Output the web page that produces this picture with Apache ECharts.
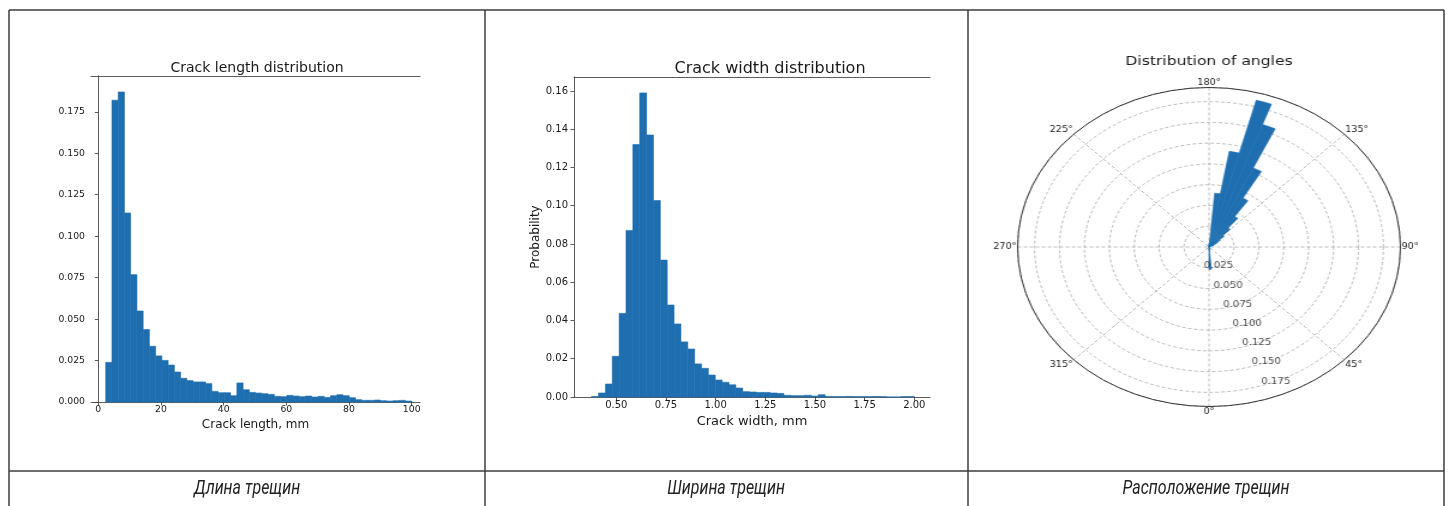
<!DOCTYPE html>
<html>
<head>
<meta charset="utf-8">
<script src="https://cdn.jsdelivr.net/npm/echarts@6/dist/echarts.min.js"></script>
<style>
  html, body { margin: 0; padding: 0; background: #fff; }
  #main { position: absolute; left: 0; top: 0; width: 1452px; height: 506px; }
  #rose { position: absolute; left: 1009px; top: 47px; width: 400px; height: 400px;
          transform: scaleX(1.2); transform-origin: 50% 50%; }
</style>
</head>
<body>
<div id="main"></div>
<div id="rose"></div>
<script>
// crack length histogram (mm), 49 bins
const lengthStart = 2.36;
const lengthBinWidth = 1.993;
const lengthProb = [
  0.0239, 0.182, 0.187, 0.114, 0.0768, 0.0549, 0.0437, 0.0336, 0.0278, 0.0251,
  0.0223, 0.0181, 0.0143, 0.0129, 0.0121, 0.0121, 0.0111, 0.0064, 0.0056, 0.0056,
  0.0038, 0.0115, 0.0074, 0.0058, 0.0054, 0.0050, 0.0046, 0.0034, 0.0032, 0.0040,
  0.0036, 0.0032, 0.0036, 0.0030, 0.0034, 0.0028, 0.0038, 0.0044, 0.0038, 0.0026,
  0.0014, 0.0010, 0.0010, 0.0012, 0.0008, 0.0006, 0.0008, 0.0010, 0.0006
];
const lengthTicksX = [0, 20, 40, 60, 80, 100];
const lengthTicksY = [0, 0.025, 0.05, 0.075, 0.1, 0.125, 0.15, 0.175];

// crack width histogram (mm), 47 bins
const widthStart = 0.376;
const widthBinWidth = 0.03456;
const widthProb = [
  0.0003, 0.0021, 0.0068, 0.0213, 0.0437, 0.0871, 0.132, 0.159, 0.137, 0.1027,
  0.0716, 0.0481, 0.0382, 0.0288, 0.0251, 0.0173, 0.0150, 0.0115, 0.0089, 0.0077,
  0.0064, 0.0047, 0.0028, 0.0026, 0.0024, 0.0024, 0.0021, 0.0019, 0.0009, 0.0007,
  0.0007, 0.0009, 0.0005, 0.0012, 0.0003, 0.0002, 0.0002, 0.0003, 0.0002, 0.0002,
  0.0002, 0.0003, 0.0002, 0, 0, 0.0002, 0.0002
];
const widthTicksX = [0.5, 0.75, 1.0, 1.25, 1.5, 1.75, 2.0];
const widthTicksY = [0, 0.02, 0.04, 0.06, 0.08, 0.10, 0.12, 0.14, 0.16];

// angle distribution, 5 degree bins (start angle of each non-empty bin)
const roseBinDeg = 5;
const roseAngles = [0, 5, 115, 120, 125, 130, 135, 140, 145, 150, 155, 160, 165, 170, 175];
const roseProb = [0.027, 0.004, 0.006, 0.010, 0.014, 0.020, 0.030, 0.045, 0.068, 0.105, 0.157, 0.183, 0.117, 0.065, 0.004];
const roseRadiusTicks = [0.025, 0.05, 0.075, 0.1, 0.125, 0.15, 0.175];

const captions = ['Длина трещин', 'Ширина трещин', 'Расположение трещин'];

const barColor = '#1f6eb0';
const inkColor = '#1a1a1a';
const mplFont = 'DejaVu Sans';

function bins(start, w, values) {
  return values.map((v, i) => [start + i * w, start + (i + 1) * w, v]);
}

function histItem(params, api) {
  const p0 = api.coord([api.value(0), 0]);
  const p1 = api.coord([api.value(1), api.value(2)]);
  return {
    type: 'rect',
    shape: {x: p0[0], y: p1[1], width: p1[0] - p0[0], height: p0[1] - p1[1]},
    style: {fill: barColor, stroke: barColor, lineWidth: 0.6}
  };
}

function bottomAxis(grid, min, max, ticks, fmt, size, name, nameSize, nameGap) {
  return {
    gridIndex: grid, type: 'value', position: 'bottom', min: min, max: max,
    axisLine: {lineStyle: {color: '#333', width: 0.8}},
    axisTick: {customValues: ticks, length: 3.5, lineStyle: {color: '#333', width: 0.8}},
    axisLabel: {customValues: ticks, formatter: fmt, fontSize: size, color: inkColor,
                fontFamily: mplFont, margin: 3},
    splitLine: {show: false},
    name: name, nameLocation: 'middle', nameGap: nameGap,
    nameTextStyle: {fontSize: nameSize, color: inkColor, fontFamily: mplFont}
  };
}
function topSpine(grid, min, max) {
  return {
    gridIndex: grid, type: 'value', position: 'top', min: min, max: max,
    axisLine: {lineStyle: {color: '#333', width: 0.8}},
    axisTick: {show: false}, axisLabel: {show: false}, splitLine: {show: false}
  };
}
function leftAxis(grid, max, ticks, digits, size) {
  return {
    gridIndex: grid, type: 'value', min: 0, max: max,
    axisLine: {show: true, lineStyle: {color: '#333', width: 0.8}},
    axisTick: {show: true, customValues: ticks, length: 3.5, lineStyle: {color: '#333', width: 0.8}},
    axisLabel: {customValues: ticks, formatter: v => v.toFixed(digits), fontSize: size,
                color: inkColor, fontFamily: mplFont, margin: 6},
    splitLine: {show: false}
  };
}

const main = echarts.init(document.getElementById('main'));

const yWidth = leftAxis(1, 0.1673, widthTicksY, 2, 10);
yWidth.name = 'Probability';
yWidth.nameLocation = 'middle';
yWidth.nameGap = 30;
yWidth.nameTextStyle = {fontSize: 12, color: inkColor, fontFamily: mplFont};

const lineStyle = {stroke: '#3c3c3c', lineWidth: 1.5};
const tableLines = [
  [9, 10, 1444, 10], [9, 471, 1444, 471],
  [9, 10, 9, 506], [485, 10, 485, 506], [968, 10, 968, 506], [1444, 10, 1444, 506]
].map(l => ({type: 'line', shape: {x1: l[0], y1: l[1], x2: l[2], y2: l[3]}, style: lineStyle, z: 10}));

const captionCenters = [247, 726, 1206];
const captionTexts = captions.map((t, i) => ({
  type: 'text', x: captionCenters[i], y: 489, z: 10, scaleX: 0.8,
  style: {text: t, fill: '#222', font: 'italic 20px Roboto', textAlign: 'center', textVerticalAlign: 'middle'}
}));

main.setOption({
  animation: false,
  title: [
    {text: 'Crack length distribution', left: 252, top: 56, textAlign: 'center',
     textStyle: {fontSize: 14, fontWeight: 'normal', color: inkColor, fontFamily: mplFont}},
    {text: 'Crack width distribution', left: 765, top: 56, textAlign: 'center',
     textStyle: {fontSize: 16, fontWeight: 'normal', color: inkColor, fontFamily: mplFont}}
  ],
  grid: [
    {left: 91, top: 76, width: 329, height: 326},
    {left: 574, top: 77, width: 356, height: 320}
  ],
  xAxis: [
    bottomAxis(0, -2.33, 102.65, lengthTicksX, v => String(v), 9.3, 'Crack length, mm', 12, 10),
    topSpine(0, -2.33, 102.65),
    bottomAxis(1, 0.287, 2.079, widthTicksX, v => v.toFixed(2), 10, 'Crack width, mm', 13, 13),
    topSpine(1, 0.287, 2.079)
  ],
  yAxis: [
    leftAxis(0, 0.1966, lengthTicksY, 3, 9.3),
    yWidth
  ],
  series: [
    {type: 'custom', xAxisIndex: 0, yAxisIndex: 0, renderItem: histItem,
     encode: {x: [0, 1], y: 2}, data: bins(lengthStart, lengthBinWidth, lengthProb)},
    {type: 'custom', xAxisIndex: 2, yAxisIndex: 1, renderItem: histItem,
     encode: {x: [0, 1], y: 2}, data: bins(widthStart, widthBinWidth, widthProb)}
  ],
  graphic: tableLines.concat(captionTexts)
});

// polar rose
const rose = echarts.init(document.getElementById('rose'));
const binCount = 360 / roseBinDeg;
const roseCats = [];
const roseFull = [];
for (let i = 0; i < binCount; i++) {
  roseCats.push(String(i * roseBinDeg));
  roseFull.push(0);
}
roseAngles.forEach((a, i) => { roseFull[a / roseBinDeg] = roseProb[i]; });

const rMax = 0.192;
const gridLine = {color: '#a8a8a8', width: 0.8, type: [3, 2]};

rose.setOption({
  animation: false,
  title: {text: 'Distribution of angles', left: 'center', top: 3,
          textStyle: {fontSize: 13, fontWeight: 'normal', color: inkColor, fontFamily: mplFont}},
  polar: [
    {center: ['50%', '50%'], radius: 159.5},
    {center: ['50%', '50%'], radius: 159.5}
  ],
  angleAxis: [
    {polarIndex: 0, type: 'value', min: 0, max: 360, interval: 45, startAngle: 270, clockwise: false,
     axisLine: {lineStyle: {color: '#333', width: 1}},
     axisTick: {show: false},
     axisLabel: {formatter: v => (v === 360 ? '' : v + '°'), fontSize: 8, color: inkColor,
                 fontFamily: mplFont, margin: 1},
     splitLine: {show: true, lineStyle: gridLine}},
    {polarIndex: 1, type: 'category', data: roseCats, startAngle: 270, clockwise: false,
     boundaryGap: true,
     axisLine: {show: false}, axisTick: {show: false}, axisLabel: {show: false}, splitLine: {show: false}}
  ],
  radiusAxis: [
    {polarIndex: 0, type: 'value', min: 0, max: rMax, interval: 0.025,
     axisLine: {show: false}, axisTick: {show: false}, axisLabel: {show: false},
     splitLine: {show: true, lineStyle: gridLine}},
    {polarIndex: 1, type: 'value', min: 0, max: rMax,
     axisLine: {show: false}, axisTick: {show: false}, axisLabel: {show: false}, splitLine: {show: false}}
  ],
  series: [
    {type: 'bar', coordinateSystem: 'polar', polarIndex: 1, data: roseFull,
     barCategoryGap: '0%', itemStyle: {color: barColor, borderColor: barColor, borderWidth: 0.6}},
    {type: 'scatter', coordinateSystem: 'polar', polarIndex: 0, symbolSize: 0,
     data: roseRadiusTicks.map(r => [r, 22.5]),
     label: {show: true, position: 'inside', formatter: p => p.value[0].toFixed(3),
             fontSize: 8.5, color: inkColor, fontFamily: mplFont}}
  ]
});
</script>
</body>
</html>
